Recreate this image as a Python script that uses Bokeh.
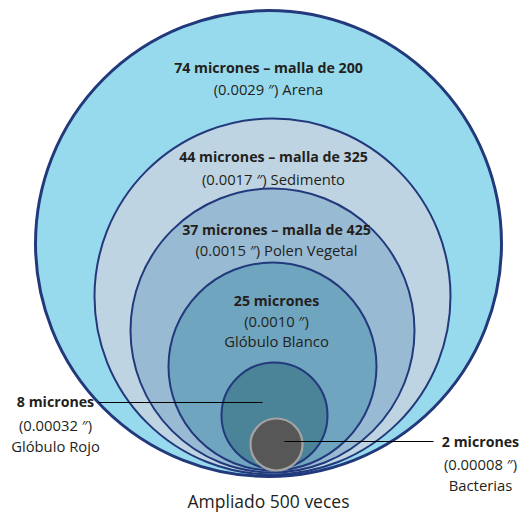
from bokeh.plotting import figure
from bokeh.models import Range1d, ColumnDataSource
from bokeh.core.properties import value
from bokeh.embed import file_html
from bokeh.resources import INLINE

# ---- data ----
microns = [74, 44, 37, 25, 8, 2]
titles = ["74 micrones – malla de 200", "44 micrones – malla de 325",
          "37 micrones – malla de 425", "25 micrones", "8 micrones", "2 micrones"]
inches = ["(0.0029 ″) Arena", "(0.0017 ″) Sedimento", "(0.0015 ″) Polen Vegetal",
          "(0.0010 ″)", "(0.00032 ″)", "(0.00008 ″)"]
extra = ["Glóbulo Blanco", "Glóbulo Rojo", "Bacterias"]
footer = "Ampliado 500 veces"

# ---- layout (drawing positions, in picture coordinates) ----
cx = [268, 272, 272, 272, 274, 276]
cy = [243, 296, 330, 366, 415, 444]
rad = [233, 178, 142, 104, 53, 26]
fills = ["#98DAED", "#BFD4E2", "#98BAD2", "#6FA5BF", "#4B8399", "#575757"]
strokes = ["#22397C"] * 5 + ["#A3A3A3"]
widths = [3, 2, 2, 2, 2, 2.2]

W, H = 523, 517
p = figure(width=W, height=H, output_backend="svg", toolbar_location=None,
           x_range=Range1d(0, W), y_range=Range1d(H, 0),
           min_border=0, outline_line_color=None)
p.axis.visible = False
p.grid.visible = False
p.background_fill_color = "white"

src = ColumnDataSource(dict(x=cx, y=cy, r=rad, fill=fills, line=strokes,
                            lw=widths, m=microns))
p.circle(x="x", y="y", radius="r", source=src, fill_color="fill",
         line_color="line", line_width="lw")

# leader lines
p.segment(x0=[98, 284], y0=[402, 441], x1=[262, 433], y1=[402, 441],
          line_color="black", line_width=1.2)

font = value("Open Sans")

def txt(x, y, s, bold=False, size=None, align="center"):
    if size is None:
        size = "14.2px" if bold else "14.8px"
    p.text(x=[x], y=[y], text=[s], text_font=font, text_font_size=size,
           text_font_style="bold" if bold else "normal", text_align=align,
           text_baseline="middle", text_color="#231F20")

txt(268, 67, titles[0], True)
txt(268, 88, inches[0])
txt(273, 156, titles[1], True)
txt(273, 178, inches[1])
txt(276, 229, titles[2], True)
txt(276, 249, inches[2])
txt(276, 300, titles[3], True)
txt(276, 320, inches[3])
txt(276, 340, extra[0])
txt(55, 401, titles[4], True)
txt(55, 424, inches[4])
txt(55, 445, extra[1])
txt(480, 441, titles[5], True)
txt(480, 463, inches[5])
txt(480, 484, extra[2])
txt(268, 500, footer, size="17.5px")

open("out.html", "w").write(file_html(p, INLINE))
